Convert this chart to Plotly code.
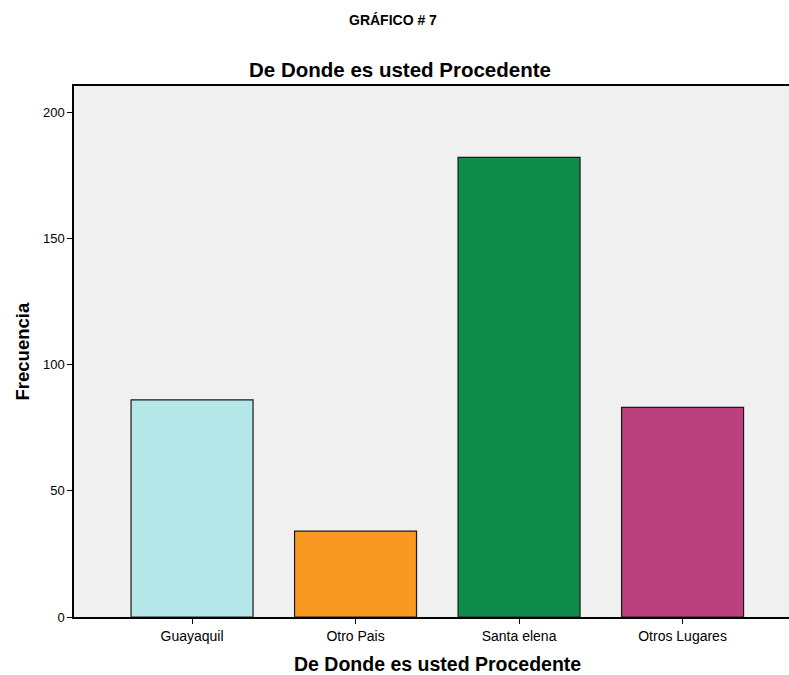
import plotly.graph_objects as go

# Frequency of respondents by place of origin
categories = ["Guayaquil", "Otro Pais", "Santa elena", "Otros Lugares"]
counts = [86, 34, 182, 83]
bar_colors = ["#B5E6E8", "#F89A22", "#0F8C4A", "#BB417E"]
y_ticks = [0, 50, 100, 150, 200]

FONT = "Liberation Sans, Arial, sans-serif"

fig = go.Figure(
    go.Bar(
        x=categories,
        y=counts,
        marker=dict(color=bar_colors, line=dict(color="#1a1a1a", width=1.2)),
        width=0.746,
        hoverinfo="x+y",
    )
)

fig.update_layout(
    width=789,
    height=675,
    margin=dict(l=74, r=0, t=86, b=58),
    paper_bgcolor="white",
    plot_bgcolor="#F0F0F0",
    font=dict(family=FONT, color="black", size=12),
    showlegend=False,
    title=dict(
        text="<b>De Donde es usted Procedente</b>",
        x=0.507, xanchor="center",
        y=1 - 70 / 675, yanchor="middle",
        yref="container",
        font=dict(size=20.5, family=FONT),
    ),
    xaxis=dict(
        type="category",
        range=[-0.722, 3.651],
        showline=True, linecolor="black", linewidth=1.5, mirror=True,
        ticks="outside", ticklen=5, tickcolor="black",
        showgrid=False, zeroline=False,
        tickfont=dict(size=14),
    ),
    yaxis=dict(
        range=[0, 210.3],
        tickvals=y_ticks,
        showline=True, linecolor="black", linewidth=1.5,
        ticks="outside", ticklen=5, tickcolor="black",
        showgrid=False, zeroline=False,
        tickfont=dict(size=13),
    ),
    annotations=[
        dict(
            text="<b>GRÁFICO # 7</b>",
            xref="paper", yref="paper",
            x=(393 - 74) / 715, y=(617 - 20) / 531,
            xanchor="center", yanchor="middle",
            showarrow=False, font=dict(size=14, family=FONT),
        ),
        dict(
            text="<b>De Donde es usted Procedente</b>",
            xref="paper", yref="paper",
            x=(437 - 74) / 715, y=(617 - 664) / 531,
            xanchor="center", yanchor="middle",
            showarrow=False, font=dict(size=19.5, family=FONT),
        ),
        dict(
            text="<b>Frecuencia</b>",
            xref="paper", yref="paper",
            x=(22 - 74) / 715, y=0.5,
            xanchor="center", yanchor="middle", textangle=-90,
            showarrow=False, font=dict(size=18.5, family=FONT),
        ),
    ],
)

fig.write_html("out.html")
